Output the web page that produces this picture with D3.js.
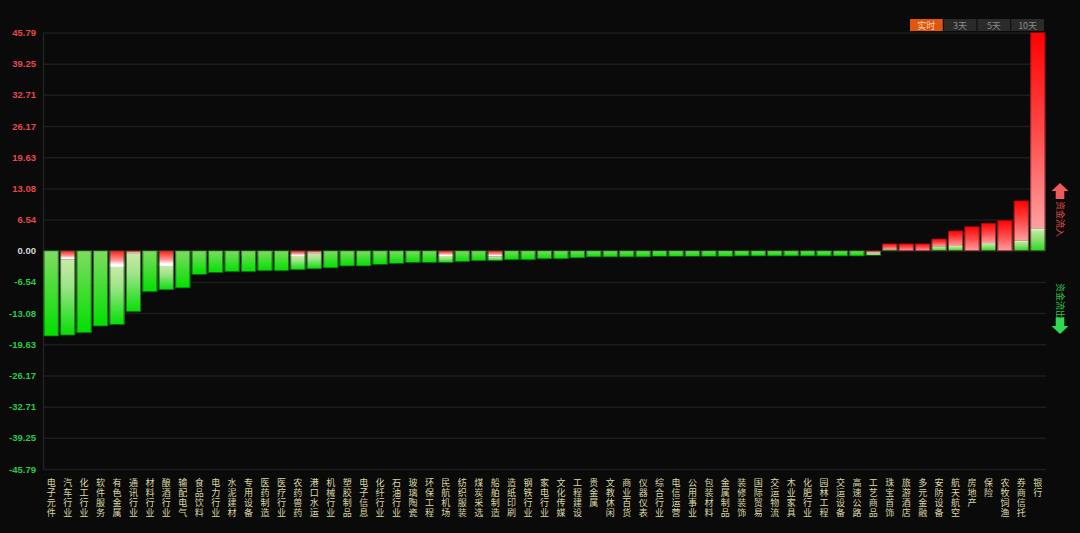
<!DOCTYPE html>
<html><head><meta charset="utf-8">
<script src="https://cdn.jsdelivr.net/npm/d3@7/dist/d3.min.js"></script>
<style>
html,body{margin:0;padding:0;background:#0a0a0a;}
svg{display:block;}
</style></head>
<body><svg id="chart" width="1080" height="533"></svg>
<script>
const categories = ["电子元件","汽车行业","化工行业","软件服务","有色金属","通讯行业","材料行业","酿酒行业","输配电气","食品饮料","电力行业","水泥建材","专用设备","医药制造","医疗行业","农药兽药","港口水运","机械行业","塑胶制品","电子信息","化纤行业","石油行业","玻璃陶瓷","环保工程","民航机场","纺织服装","煤炭采选","船舶制造","造纸印刷","钢铁行业","家电行业","文化传媒","工程建设","贵金属","文教休闲","商业百货","仪器仪表","综合行业","电信运营","公用事业","包装材料","金属制品","装修装饰","国际贸易","交运物流","木业家具","化肥行业","园林工程","交运设备","高速公路","工艺商品","珠宝首饰","旅游酒店","多元金融","安防设备","航天航空","房地产","保险","农牧饲渔","券商信托","银行"];
// net fund flow (亿)
const netFlow = [-17.9,-17.7,-17.2,-15.8,-15.5,-12.8,-8.6,-8.2,-7.8,-5.0,-4.6,-4.4,-4.4,-4.2,-4.2,-4.0,-3.8,-3.6,-3.2,-3.2,-2.9,-2.7,-2.5,-2.5,-2.5,-2.3,-2.1,-2.1,-1.9,-1.9,-1.7,-1.7,-1.5,-1.3,-1.3,-1.3,-1.3,-1.2,-1.2,-1.2,-1.2,-1.2,-1.1,-1.1,-1.1,-1.1,-1.1,-1.1,-1.1,-1.1,-1.0,1.5,1.5,1.5,2.5,4.2,5.1,5.8,6.4,10.5,45.79];
// opposite-direction portion shown next to the zero line
const counterFlow = [0,1.8,0,0,3.4,0.6,0,3.2,0,0,0,0,0,0,0,1.1,0.6,0,0,0,0,0,0,0,1.1,0,0,1.2,0,0,0,0,0,0,0,0,0,0,0,0,0,0,0,0,0,0,0,0,0,0,0.6,0.3,0,0,0.9,1.0,0,1.6,0,2.1,4.7];
const tickValues = [45.79,39.25,32.71,26.17,19.63,13.08,6.54,0,-6.54,-13.08,-19.63,-26.17,-32.71,-39.25,-45.79];
const buttons = ["实时","3天","5天","10天"];
const legendIn = "资金流入", legendOut = "资金流出";

const svg = d3.select("#chart");
const L = 43, R = 1046, T = 32.5, B = 469;
const x = d3.scaleBand().domain(categories).range([L, R]).paddingInner(0.08).paddingOuter(0.04);
const y = d3.scaleLinear().domain([-45.79, 45.79]).range([B, T]);

const defs = svg.append("defs");
function grad(id, stops){
  const g = defs.append("linearGradient").attr("id", id).attr("x1",0).attr("y1",0).attr("x2",0).attr("y2",1);
  stops.forEach(s => g.append("stop").attr("offset", s[0]).attr("stop-color", s[1]));
}
grad("gNeg", [[0,"#80db62"],[1,"#00e000"]]);
grad("gNegPale", [[0,"#c8eaa8"],[0.35,"#9ee488"],[1,"#05df05"]]);
grad("gRedC", [[0,"#ff1a1a"],[0.6,"#ff9a9a"],[0.85,"#ffffff"],[1,"#ffffff"]]);
grad("gPos", [[0,"#ff0000"],[0.5,"#ff4848"],[1,"#ffa0a0"]]);
grad("gGreenC", [[0,"#e8f5dc"],[0.15,"#b8e896"],[0.5,"#8ae070"],[1,"#22dc22"]]);

// gridlines
const grid = svg.append("g").attr("transform", `translate(${L},0)`)
  .call(d3.axisLeft(y).tickValues(tickValues).tickSize(-(R - L)).tickFormat(""));
grid.select(".domain").remove();
grid.selectAll("line").attr("stroke", "#1d1d1d").attr("stroke-width", 1.5);

// axis
const ax = svg.append("g").attr("transform", `translate(${L},0)`)
  .call(d3.axisLeft(y).tickValues(tickValues).tickSize(0).tickPadding(7).tickFormat(d => d.toFixed(2)));
ax.select(".domain").attr("stroke", "#222").attr("stroke-width", 1.5);
ax.selectAll("text")
  .attr("font-family", "Liberation Sans, Arial, sans-serif")
  .attr("font-size", 9.5).attr("font-weight", "bold")
  .attr("fill", d => d > 0 ? "#e5484b" : (d < 0 ? "#2ec848" : "#d8d8d8"));

// bars
const data = categories.map((c, i) => ({c, v: netFlow[i], k: counterFlow[i]}));
const bars = svg.append("g");
const bw = x.bandwidth();
data.forEach(d => {
  const g = bars.append("g");
  const x0 = x(d.c);
  if (d.v < 0) {
    const yc = y(-d.k);
    g.append("rect").attr("x", x0).attr("width", bw).attr("y", yc).attr("height", y(d.v) - yc)
      .attr("fill", d.k > 0 ? "url(#gNegPale)" : "url(#gNeg)");
    if (d.k > 0) g.append("rect").attr("x", x0).attr("width", bw).attr("y", y(0)).attr("height", yc - y(0)).attr("fill", "url(#gRedC)");
    g.append("rect").attr("x", x0 + 0.5).attr("width", bw - 1).attr("y", y(0)).attr("height", y(d.v) - y(0))
      .attr("fill", "none").attr("stroke", "#0c4a0c").attr("stroke-opacity", 0.7);
  } else {
    const yc = y(d.k);
    g.append("rect").attr("x", x0).attr("width", bw).attr("y", y(d.v)).attr("height", yc - y(d.v)).attr("fill", "url(#gPos)");
    if (d.k > 0) g.append("rect").attr("x", x0).attr("width", bw).attr("y", yc).attr("height", y(0) - yc).attr("fill", "url(#gGreenC)");
    g.append("rect").attr("x", x0 + 0.5).attr("width", bw - 1).attr("y", y(d.v)).attr("height", y(0) - y(d.v))
      .attr("fill", "none").attr("stroke", "#5a0c0c").attr("stroke-opacity", 0.6);
  }
});

// x labels (vertical text, one element per category)
svg.append("g").selectAll("text").data(categories).join("text")
  .attr("x", c => x(c) + bw / 2).attr("y", 478.5)
  .style("writing-mode", "vertical-rl")
  .attr("letter-spacing", 0.7)
  .attr("font-family", "Noto Sans CJK SC, sans-serif").attr("font-size", 9)
  .attr("fill", "#dcd8a2").text(c => c);

// buttons
const bx = d3.scaleBand().domain(buttons).range([910, 1044]).paddingInner(0.03);
const btn = svg.append("g");
buttons.forEach((b, i) => {
  btn.append("rect").attr("x", bx(b)).attr("y", 19).attr("width", bx.bandwidth()).attr("height", 12)
    .attr("fill", i === 0 ? "#e0560c" : "#2a2a2a");
  btn.append("text").attr("x", bx(b) + bx.bandwidth() / 2).attr("y", 25.5)
    .attr("text-anchor", "middle").attr("dominant-baseline", "central")
    .attr("font-family", "Noto Sans CJK SC, sans-serif").attr("font-size", 9)
    .attr("fill", i === 0 ? "#f3d2b8" : "#8a8a8a").text(b);
});

// legend arrows and text
const lg = svg.append("g");
const ax0 = 1060;
lg.append("path").attr("d", `M${ax0},183 L${ax0 + 8.5},191 L${ax0 + 4.3},191 L${ax0 + 4.3},199 L${ax0 - 4.3},199 L${ax0 - 4.3},191 L${ax0 - 8.5},191 Z`)
  .attr("fill", "#ef5a5a");
lg.append("text").attr("transform", `translate(${ax0 - 3.5},201) rotate(90)`)
  .attr("font-family", "Noto Sans CJK SC, sans-serif").attr("font-size", 9).attr("fill", "#e04a4a").text(legendIn);
lg.append("text").attr("transform", `translate(${ax0 - 3.5},283) rotate(90)`)
  .attr("font-family", "Noto Sans CJK SC, sans-serif").attr("font-size", 9).attr("fill", "#2ec848").text(legendOut);
lg.append("path").attr("d", `M${ax0},334 L${ax0 + 8.5},326 L${ax0 + 4.3},326 L${ax0 + 4.3},318 L${ax0 - 4.3},318 L${ax0 - 4.3},326 L${ax0 - 8.5},326 Z`)
  .attr("fill", "#2ed850");
</script></body></html>
